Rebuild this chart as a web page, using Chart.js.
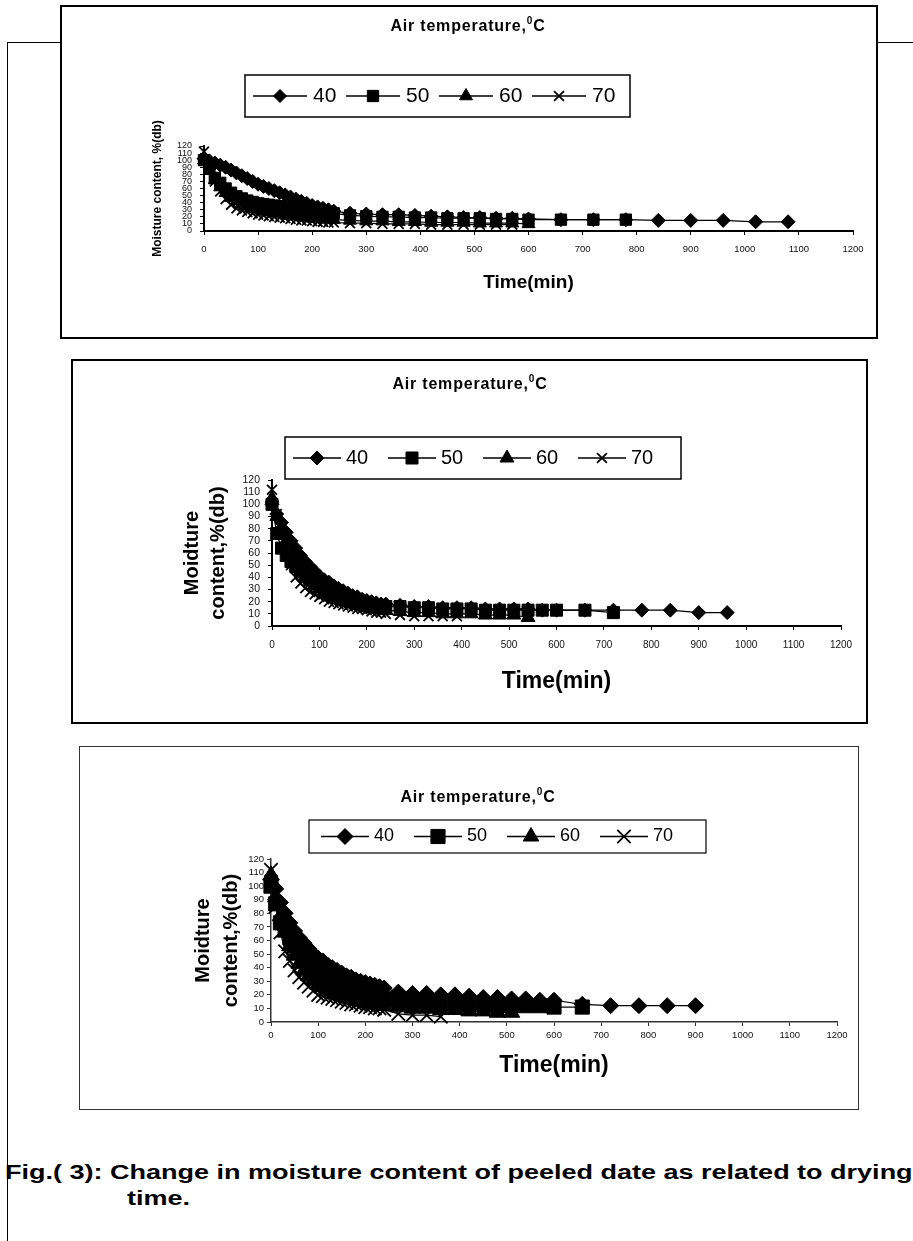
<!DOCTYPE html>
<html>
<head>
<meta charset="utf-8">
<script src="https://cdn.jsdelivr.net/npm/chart.js@4.4.0/dist/chart.umd.min.js"></script>
<style>
html,body{margin:0;padding:0;background:#fff;}
body{width:913px;height:1241px;position:relative;overflow:hidden;font-family:"Liberation Sans",Arial,sans-serif;}
.frame{position:absolute;left:7px;top:42px;width:1000px;height:1300px;border-left:1.5px solid #000;border-top:1.5px solid #000;box-sizing:border-box;z-index:0;}
.bg{position:absolute;background:#fff;z-index:1;}
canvas{position:absolute;z-index:2;}
.bd{position:absolute;box-sizing:border-box;z-index:3;pointer-events:none;}
.ttl{position:absolute;width:400px;height:20px;line-height:20px;text-align:center;font-weight:bold;font-size:16px;letter-spacing:0.8px;color:#000;white-space:nowrap;z-index:4;}
.ttl sup{font-size:10px;line-height:0;position:relative;top:-1px;}
.cap{position:absolute;font-weight:bold;font-size:20px;line-height:24px;white-space:nowrap;transform-origin:0 50%;transform:scaleX(1.35);color:#000;z-index:4;}
</style>
</head>
<body>
<div class="frame"></div>

<div class="bg" style="left:60px;top:5px;width:818px;height:334px;"></div>
<canvas id="c1" width="818" height="334" style="left:60px;top:5px;width:818px;height:334px;"></canvas>
<div class="bd" style="left:60px;top:5px;width:818px;height:334px;border:2.5px solid #000;"></div>
<div class="ttl" style="left:268px;top:16px;">Air temperature,<sup>0</sup>C</div>

<div class="bg" style="left:71px;top:359px;width:797px;height:365px;"></div>
<canvas id="c2" width="797" height="365" style="left:71px;top:359px;width:797px;height:365px;"></canvas>
<div class="bd" style="left:71px;top:359px;width:797px;height:365px;border:2px solid #000;"></div>
<div class="ttl" style="left:270px;top:374px;">Air temperature,<sup>0</sup>C</div>

<div class="bg" style="left:79px;top:746px;width:780px;height:364px;"></div>
<canvas id="c3" width="780" height="364" style="left:79px;top:746px;width:780px;height:364px;"></canvas>
<div class="bd" style="left:79px;top:746px;width:780px;height:364px;border:1.5px solid #333;"></div>
<div class="ttl" style="left:278px;top:787px;">Air temperature,<sup>0</sup>C</div>

<div class="cap" style="left:5px;top:1160px;">Fig.( 3): Change in moisture content of peeled date as related to drying</div>
<div class="cap" style="left:127px;top:1186px;">time.</div>

<script>
// ---------- data ----------
const TIME = [0,10,20,30,40,50,60,70,80,90,100,110,120,130,140,150,160,170,180,190,200,210,220,230,240,
              270,300,330,360,390,420,450,480,510,540,570,600,
              660,720,780,840,900,960,1020,1080];
const SERIES = ['40','50','60','70'];
const X_TICKS = [0,100,200,300,400,500,600,700,800,900,1000,1100,1200];
const Y_TICKS = [0,10,20,30,40,50,60,70,80,90,100,110,120];

// chart 1 (top)
const C1_40 = [102,99,96,93,90,86,82,78,74,70,66,63,60,57,54,51,48,45,42,39,36,34,32,30,28,
               25,24,23,23,22,21,20,19,19,18,18,17, 16,16,16,15,15,15,13,13];
const C1_50 = [100,88,75,68,60,54,49,46,43,41,39,38,37,36,35,34,33,32,31,30,29,28,27,26,25,
               22,21,20,20,19,19,18,18,18,17,17,16, 16,16,16];
const C1_60 = [100,85,72,62,54,47,42,38,35,32,30,28,27,25,24,23,22,21,20,19,18,18,17,17,16,
               15,14,14,13,13,12,12,12,11,11,11,10];
const C1_70 = [112,88,70,56,45,37,32,29,27,25,23,22,21,20,19,18,17,16,15,15,14,13,13,12,12,
               11,11,10,10,10,9,9,9,9,9,9];

// chart 2 (middle)
const C2_40 = [100,92,85,77,70,64,58,53,49,45,41,38,36,33,31,29,27,25,24,22,21,20,19,18,18,
               17,16,16,15,15,15,14,14,14,14,13,13, 13,13,13,13,11,11];
const C2_50 = [100,76,64,58,53,49,45,41,38,35,33,31,29,27,25,24,22,21,20,19,18,18,17,17,16,
               16,15,15,14,14,14,13,13,13,13,13,13, 13,11];
const C2_60 = [105,90,80,70,61,54,48,43,38,34,31,28,26,24,22,20,19,18,17,16,15,14,14,13,13,
               12,11,11,10,10,10,9,9,9,7];
const C2_70 = [112,92,78,62,50,40,35,31,28,26,24,22,20,19,18,17,16,15,14,14,13,12,11,11,10,
               9,8,8,8,8];

// chart 3 (bottom)
const C3_40 = [105,98,88,80,73,67,62,58,54,50,47,45,42,40,38,36,34,33,31,30,29,28,27,26,25,
               22,21,21,20,20,19,18,18,17,17,16,16, 13,12,12,12,12];
const C3_50 = [100,87,73,68,62,56,51,47,43,40,37,35,32,30,28,27,25,24,23,22,21,20,19,18,17,
               16,15,15,14,14,13,13,12,12,12,12,11, 11];
const C3_60 = [108,92,78,66,56,49,43,38,34,31,28,26,24,22,21,19,18,17,16,15,14,13,13,12,12,
               11,10,10,9,9,8,8,7,7];
const C3_70 = [112,85,66,52,45,38,33,29,26,23,20,19,18,17,16,15,14,13,13,12,11,11,10,10,9,
               6,5,5,4];

// ---------- drawing ----------
const FONT = '"Liberation Sans", Arial, Helvetica, sans-serif';
const STYLES = ['rectRot','rect','triangle','crossRot'];

const boxLegend = {
  id: 'boxLegend',
  afterDraw(chart, args, o) {
    const ctx = chart.ctx;
    ctx.save();
    ctx.strokeStyle = '#000';
    ctx.lineWidth = o.borderWidth;
    ctx.strokeRect(o.left, o.top, o.width, o.height);
    const cy = o.top + o.height / 2;
    ctx.font = o.fontSize + 'px ' + FONT;
    ctx.textBaseline = 'middle';
    ctx.textAlign = 'left';
    chart.data.datasets.forEach((ds, i) => {
      const x0 = o.startX + i * o.pitch;
      ctx.strokeStyle = '#000';
      ctx.fillStyle = '#000';
      ctx.lineWidth = 1.5;
      ctx.beginPath();
      ctx.moveTo(x0, cy);
      ctx.lineTo(x0 + o.lineLen, cy);
      ctx.stroke();
      ctx.lineWidth = i === 3 ? 1.8 : 1;
      Chart.helpers.drawPoint(ctx, {pointStyle: ds.pointStyle, radius: o.radii[i], borderWidth: i === 3 ? 1.8 : 1, rotation: 0}, x0 + o.lineLen / 2, cy);
      ctx.fillStyle = '#000';
      ctx.fillText(ds.label, x0 + o.lineLen + o.gap, cy);
    });
    ctx.restore();
  }
};

function makeChart(id, c) {
  const datasets = c.series.map((vals, i) => ({
    label: SERIES[i],
    data: vals.map((v, k) => ({x: TIME[k], y: v})),
    showLine: true,
    borderColor: '#000',
    backgroundColor: '#000',
    borderWidth: 1.2,
    pointStyle: STYLES[i],
    pointRadius: c.radii[i],
    pointBorderWidth: i === 3 ? 1.8 : 1,
    pointBackgroundColor: '#000',
    pointBorderColor: '#000',
    tension: 0,
    clip: false
  }));
  return new Chart(document.getElementById(id), {
    type: 'scatter',
    data: {datasets},
    plugins: [boxLegend],
    options: {
      responsive: false,
      maintainAspectRatio: false,
      animation: false,
      events: [],
      layout: {padding: {left: c.padL, right: c.padR, top: c.padT, bottom: 0}},
      plugins: {
        legend: {display: false},
        title: {display: false},
        tooltip: {enabled: false},
        boxLegend: c.legend
      },
      scales: {
        x: {
          type: 'linear', min: 0, max: 1200,
          afterBuildTicks: s => { s.ticks = X_TICKS.map(v => ({value: v})); },
          afterFit: s => { s.height = c.xH; },
          ticks: {autoSkip: false, maxRotation: 0, color: '#111', padding: c.xTickPad,
                  font: {family: FONT, size: c.xTickSize}, callback: v => String(v)},
          grid: {display: true, drawOnChartArea: false, drawTicks: true, tickLength: 4, color: c.axisColor, lineWidth: 1},
          border: {display: true, color: c.axisColor, width: c.axisWidth},
          title: {display: true, text: 'Time(min)', color: '#000',
                  font: {family: FONT, size: c.xTitleSize, weight: 'bold', lineHeight: 1.2},
                  padding: {top: 0, bottom: c.xTitlePadB}}
        },
        y: {
          type: 'linear', min: 0, max: 120,
          afterBuildTicks: s => { s.ticks = Y_TICKS.map(v => ({value: v})); },
          afterFit: s => { s.width = c.yW; },
          ticks: {autoSkip: false, color: '#111', padding: c.yTickPad,
                  font: {family: FONT, size: c.yTickSize, lineHeight: 1}, callback: v => String(v)},
          grid: {display: true, drawOnChartArea: false, drawTicks: true, tickLength: 4, color: c.axisColor, lineWidth: 1},
          border: {display: true, color: c.axisColor, width: c.axisWidth},
          title: {display: true, text: c.yTitle, color: '#000',
                  font: {family: FONT, size: c.yTitleSize, weight: 'bold', lineHeight: c.yTitleLH},
                  padding: {top: 0, bottom: 0}}
        }
      }
    }
  });
}

makeChart('c1', {
  series: [C1_40, C1_50, C1_60, C1_70],
  radii: [7, 8, 7.5, 7],
  padL: 90, padR: 25, padT: 141, yW: 54, xH: 108,
  xTickSize: 9.5, xTickPad: 9, yTickSize: 9, yTickPad: 8,
  xTitleSize: 19, xTitlePadB: 44.6,
  yTitle: 'Moisture content, %(db)', yTitleSize: 12, yTitleLH: 1.2,
  axisColor: '#000', axisWidth: 2,
  legend: {left: 185, top: 70, width: 385, height: 42, borderWidth: 1.5, startX: 193, pitch: 93,
           lineLen: 54, gap: 6, fontSize: 21, radii: [6.5, 8, 7.5, 7]}
});

makeChart('c2', {
  series: [C2_40, C2_50, C2_60, C2_70],
  radii: [7, 8.5, 8, 7],
  padL: 108, padR: 27, padT: 121, yW: 93, xH: 98,
  xTickSize: 10, xTickPad: 9, yTickSize: 10.5, yTickPad: 8,
  xTitleSize: 23, xTitlePadB: 28.2,
  yTitle: ['Moidture', 'content,%(db)'], yTitleSize: 20, yTitleLH: 1.3,
  axisColor: '#000', axisWidth: 2,
  legend: {left: 214, top: 78, width: 396, height: 42, borderWidth: 1.5, startX: 222, pitch: 95,
           lineLen: 48, gap: 5, fontSize: 20, radii: [7, 8.5, 8, 7]}
});

makeChart('c3', {
  series: [C3_40, C3_50, C3_60, C3_70],
  radii: [8, 10, 9.5, 9.5],
  padL: 110, padR: 22, padT: 113, yW: 82, xH: 88,
  xTickSize: 9.5, xTickPad: 4, yTickSize: 9.5, yTickPad: 3,
  xTitleSize: 23, xTitlePadB: 30.2,
  yTitle: ['Moidture', 'content,%(db)'], yTitleSize: 20, yTitleLH: 1.4,
  axisColor: '#333', axisWidth: 1.5,
  legend: {left: 230, top: 74, width: 397, height: 33, borderWidth: 1.2, startX: 242, pitch: 93,
           lineLen: 48, gap: 5, fontSize: 18, radii: [8, 10, 9, 9.5]}
});
</script>
</body>
</html>
